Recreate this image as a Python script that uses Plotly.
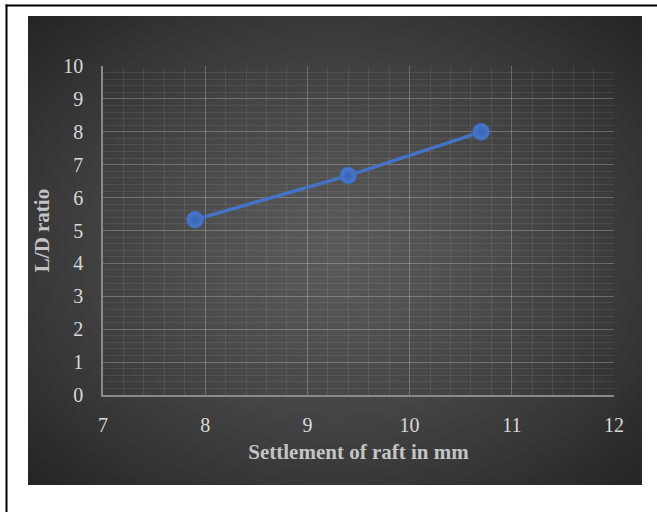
import base64
import struct
import zlib

import numpy as np
import plotly.graph_objects as go

# Data
settlement_mm = [7.9, 9.4, 10.7]
ld_ratio = [5.33, 6.67, 8.0]
x_ticks = [7, 8, 9, 10, 11, 12]
y_ticks = [0, 1, 2, 3, 4, 5, 6, 7, 8, 9, 10]

W, H = 657, 512
ML, MR, MT, MB = 103, 43, 66, 117
PW, PH = W - ML - MR, H - MT - MB


def px_x(px):
    return (px - ML) / PW


def px_y(py):
    return (H - MB - py) / PH


def png_data_uri(arr):
    h, w = arr.shape[:2]
    raw = b"".join(b"\x00" + arr[r].astype(np.uint8).tobytes() for r in range(h))

    def chunk(tag, data):
        c = struct.pack(">I", len(data)) + tag + data
        return c + struct.pack(">I", zlib.crc32(tag + data) & 0xFFFFFFFF)

    png = b"\x89PNG\r\n\x1a\n"
    png += chunk(b"IHDR", struct.pack(">IIBBBBB", w, h, 8, 2, 0, 0, 0))
    png += chunk(b"IDAT", zlib.compress(raw, 9))
    png += chunk(b"IEND", b"")
    return "data:image/png;base64," + base64.b64encode(png).decode()


# Radial dark-grey gradient for the chart panel
gw, gh = 307, 235
yy, xx = np.mgrid[0:gh, 0:gw]
dx = (xx - (gw - 1) / 2) / ((gw - 1) / 2)
dy = (yy - (gh - 1) / 2) / ((gh - 1) / 2)
d = np.clip(np.sqrt(dx ** 2 + dy ** 2) / np.sqrt(2), 0, 1) ** 1.3
level = 0x5a + (0x25 - 0x5a) * d
panel = np.stack([level, level, level], axis=-1)
panel_uri = png_data_uri(panel)

fig = go.Figure()
fig.add_trace(go.Scatter(
    x=settlement_mm, y=ld_ratio, mode="lines+markers",
    line=dict(color="#4472C4", width=3.5),
    marker=dict(size=17, color="#4a78cc",
                line=dict(width=0.8, color="#3a62ad"),
                gradient=dict(type="radial", color="#3a64b4")),
    showlegend=False, hoverinfo="x+y",
))

panel_x0, panel_x1, panel_y0, panel_y1 = 28, 642, 16, 485
fig.add_layout_image(dict(
    source=panel_uri, xref="paper", yref="paper",
    x=px_x(panel_x0), y=px_y(panel_y0),
    sizex=(panel_x1 - panel_x0) / PW, sizey=(panel_y1 - panel_y0) / PH,
    sizing="stretch", layer="below", xanchor="left", yanchor="top",
))

# Outer frame lines (top and left)
fig.add_shape(type="line", xref="paper", yref="paper",
              x0=px_x(5.5), x1=px_x(W + 2), y0=px_y(5.5), y1=px_y(5.5),
              line=dict(color="black", width=2))
fig.add_shape(type="line", xref="paper", yref="paper",
              x0=px_x(6.5), x1=px_x(6.5), y0=px_y(4.5), y1=px_y(H + 2),
              line=dict(color="black", width=2))

tick_font = dict(family="Liberation Serif, Times New Roman, serif", size=20, color="#d9d9d9")
title_font = dict(family="Liberation Serif, Times New Roman, serif", size=21, color="#c4c4c4")

fig.update_xaxes(
    range=[7, 12], tickvals=x_ticks, ticktext=[str(v) for v in x_ticks],
    showgrid=True, gridcolor="rgba(255,255,255,0.18)", gridwidth=1,
    minor=dict(dtick=0.2, showgrid=True, gridcolor="rgba(255,255,255,0.08)", gridwidth=1),
    showline=True, linecolor="#8a8a8a", linewidth=1.5,
    zeroline=False, ticks="", ticklabelstandoff=11, tickfont=tick_font,
    title=dict(text="<b>Settlement of raft in mm</b>", font=title_font, standoff=10),
)
fig.update_yaxes(
    range=[0, 10], tickvals=y_ticks, ticktext=[str(v) for v in y_ticks],
    showgrid=True, gridcolor="rgba(255,255,255,0.18)", gridwidth=1,
    minor=dict(dtick=0.2, showgrid=True, gridcolor="rgba(255,255,255,0.08)", gridwidth=1),
    showline=True, linecolor="#8a8a8a", linewidth=1.5,
    zeroline=False, ticks="", ticklabelstandoff=14, tickfont=tick_font,
    title=dict(text="<b>L/D ratio</b>", font=title_font, standoff=8),
)

fig.update_layout(
    width=W, height=H, autosize=False,
    margin=dict(l=ML, r=MR, t=MT, b=MB, pad=0),
    paper_bgcolor="white", plot_bgcolor="rgba(0,0,0,0)",
)

fig.write_html("out.html", include_plotlyjs=True, config={"displayModeBar": False})
